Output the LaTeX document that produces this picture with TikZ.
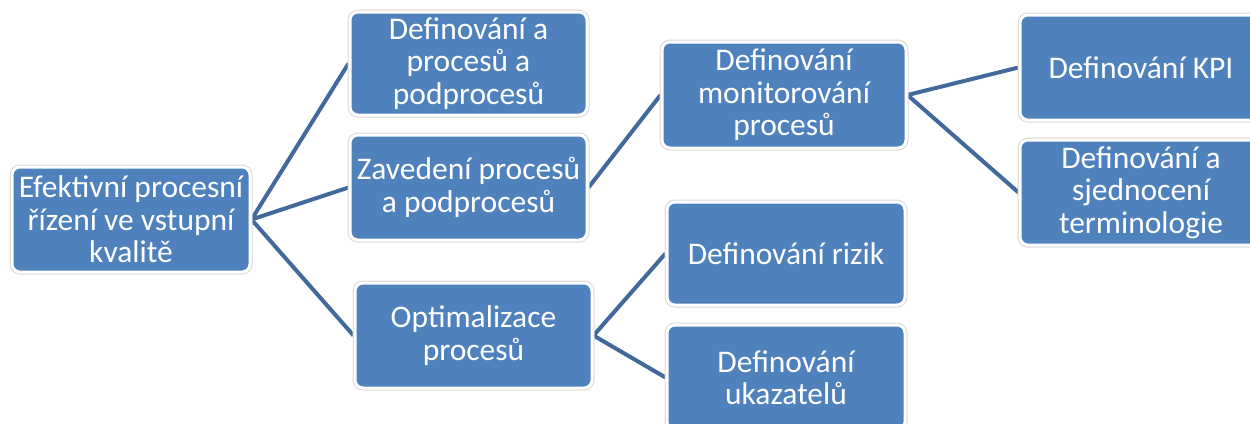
\documentclass[tikz,border=0pt]{standalone}
\usepackage{fontspec}
\setmainfont{Carlito}
\usetikzlibrary{backgrounds}
\definecolor{boxblue}{HTML}{4F81BD}
\definecolor{linkblue}{HTML}{41699B}
\tikzset{
  x=1pt, y=-1pt,
  box/.style={rectangle, rounded corners=8pt, fill=boxblue, draw=white,
    line width=3pt, preaction={draw=black!15, line width=5pt},
    text=white, align=center, inner sep=0pt,
    font=\fontsize{31.5}{32.5}\selectfont,
    minimum width=#1, minimum height=105pt},
  box/.default=237pt,
  link/.style={draw=linkblue, line width=4pt}
}
\begin{document}
\begin{tikzpicture}
\useasboundingbox (0,0) rectangle (1250,423);
\node[box=238pt] (root) at (131,219.5) {Efektivní procesní\\řízení ve vstupní\\kvalitě};
\node[box, minimum height=103pt] (def) at (468.5,63.5) {Definování a\\procesů a\\podprocesů};
\node[box] (zav) at (468.5,187.5) {Zavedení procesů\\a podprocesů};
\node[box] (opt) at (473.5,335.5) {Optimalizace\\procesů};
\node[box=244pt, minimum height=106pt] (mon) at (784,95) {Definování\\monitorování\\procesů};
\node[box=242pt] (kpi) at (1141,67.5) {Definování KPI};
\node[box=242pt] (ter) at (1141,192.5) {Definování a\\sjednocení\\terminologie};
\node[box=238pt, minimum height=103pt] (riz) at (786,253.5) {Definování rizik};
\node[box=238pt] (uka) at (786,377.5) {Definování\\ukazatelů};
\begin{scope}[on background layer]
  \draw[link] (def.west) -- (root.east) -- (zav.west);
  \draw[link] (root.east) -- (opt.west);
  \draw[link] (zav.east) -- (mon.west);
  \draw[link] (kpi.west) -- (mon.east) -- (ter.west);
  \draw[link] (riz.west) -- (opt.east) -- (uka.west);
\end{scope}
\end{tikzpicture}
\end{document}
